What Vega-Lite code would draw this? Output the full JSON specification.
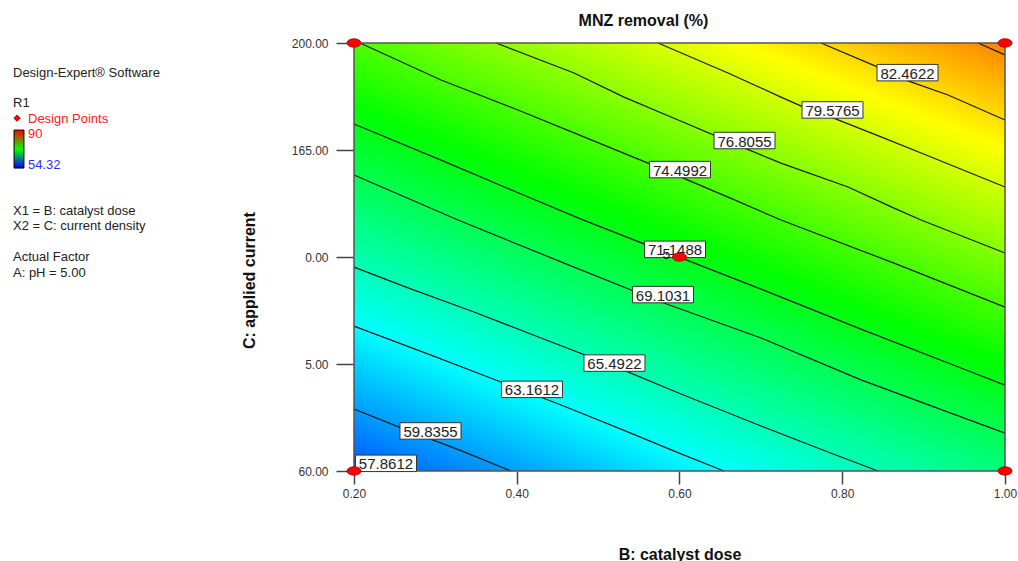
{
  "$schema": "https://vega.github.io/schema/vega-lite/v6.json",
  "background": "white",
  "padding": {"left": 12, "top": 13, "right": 0, "bottom": 0},
  "spacing": 21,
  "bounds": "flush",
  "config": {"font": "Liberation Sans", "view": {"stroke": null}},
  "datasets": {
    "surface": [{"b": 0.2, "b2": 1.0, "c": 60, "c2": 200}],
    "points": [
      {"b": 0.2, "c": 60, "reps": 1},
      {"b": 0.2, "c": 200, "reps": 1},
      {"b": 1.0, "c": 60, "reps": 1},
      {"b": 1.0, "c": 200, "reps": 1},
      {"b": 0.6, "c": 130, "reps": 5}
    ],
    "labels": [
      {"label": "82.4622", "b": 0.8802, "c": 190.3},
      {"label": "79.5765", "b": 0.7880, "c": 178.1},
      {"label": "76.8055", "b": 0.6799, "c": 168.1},
      {"label": "74.4992", "b": 0.6006, "c": 158.6},
      {"label": "71.1488", "b": 0.5945, "c": 132.5},
      {"label": "69.1031", "b": 0.5797, "c": 117.7},
      {"label": "65.4922", "b": 0.5201, "c": 95.3},
      {"label": "63.1612", "b": 0.4187, "c": 86.7},
      {"label": "59.8355", "b": 0.2940, "c": 73.1},
      {"label": "57.8612", "b": 0.2393, "c": 62.5}
    ],
    "contours": [
      {"level": "85.3", "b": 0.9668, "c": 200},
      {"level": "85.3", "b": 1.0, "c": 196.1},
      {"level": "82.4622", "b": 0.7739, "c": 200},
      {"level": "82.4622", "b": 0.8439, "c": 192.1},
      {"level": "82.4622", "b": 0.8808, "c": 187.6},
      {"level": "82.4622", "b": 0.9300, "c": 183.0},
      {"level": "82.4622", "b": 1.0, "c": 174.8},
      {"level": "79.5765", "b": 0.5736, "c": 200},
      {"level": "79.5765", "b": 0.6596, "c": 190.2},
      {"level": "79.5765", "b": 0.7247, "c": 182.3},
      {"level": "79.5765", "b": 0.7518, "c": 179.1},
      {"level": "79.5765", "b": 0.7886, "c": 175.5},
      {"level": "79.5765", "b": 0.8476, "c": 169.3},
      {"level": "79.5765", "b": 0.9091, "c": 162.7},
      {"level": "79.5765", "b": 1.0, "c": 152.9},
      {"level": "76.8055", "b": 0.3745, "c": 200},
      {"level": "76.8055", "b": 0.4704, "c": 190.2},
      {"level": "76.8055", "b": 0.5318, "c": 182.3},
      {"level": "76.8055", "b": 0.5896, "c": 175.8},
      {"level": "76.8055", "b": 0.6793, "c": 165.7},
      {"level": "76.8055", "b": 0.7247, "c": 160.7},
      {"level": "76.8055", "b": 0.8071, "c": 152.9},
      {"level": "76.8055", "b": 0.8636, "c": 146.0},
      {"level": "76.8055", "b": 0.8968, "c": 142.1},
      {"level": "76.8055", "b": 1.0, "c": 131.3},
      {"level": "74.4992", "b": 0.2074, "c": 200},
      {"level": "74.4992", "b": 0.3069, "c": 187.9},
      {"level": "74.4992", "b": 0.4015, "c": 178.1},
      {"level": "74.4992", "b": 0.4704, "c": 170.6},
      {"level": "74.4992", "b": 0.5613, "c": 160.7},
      {"level": "74.4992", "b": 0.6596, "c": 149.6},
      {"level": "74.4992", "b": 0.7247, "c": 142.1},
      {"level": "74.4992", "b": 0.8636, "c": 128.0},
      {"level": "74.4992", "b": 1.0, "c": 113.6},
      {"level": "71.1488", "b": 0.2, "c": 173.5},
      {"level": "71.1488", "b": 0.3069, "c": 161.7},
      {"level": "71.1488", "b": 0.4052, "c": 150.6},
      {"level": "71.1488", "b": 0.4790, "c": 142.4},
      {"level": "71.1488", "b": 0.5564, "c": 134.3},
      {"level": "71.1488", "b": 0.6018, "c": 129.7},
      {"level": "71.1488", "b": 0.7002, "c": 119.5},
      {"level": "71.1488", "b": 0.8230, "c": 106.4},
      {"level": "71.1488", "b": 0.9459, "c": 93.7},
      {"level": "71.1488", "b": 1.0, "c": 88.1},
      {"level": "69.1031", "b": 0.2, "c": 156.8},
      {"level": "69.1031", "b": 0.3278, "c": 142.1},
      {"level": "69.1031", "b": 0.4544, "c": 128.4},
      {"level": "69.1031", "b": 0.5773, "c": 115.3},
      {"level": "69.1031", "b": 0.7002, "c": 103.5},
      {"level": "69.1031", "b": 0.8230, "c": 89.8},
      {"level": "69.1031", "b": 0.9459, "c": 77.7},
      {"level": "69.1031", "b": 1.0, "c": 72.4},
      {"level": "65.4922", "b": 0.2, "c": 126.7},
      {"level": "65.4922", "b": 0.2664, "c": 119.9},
      {"level": "65.4922", "b": 0.3475, "c": 112.0},
      {"level": "65.4922", "b": 0.4298, "c": 103.5},
      {"level": "65.4922", "b": 0.5195, "c": 94.3},
      {"level": "65.4922", "b": 0.6018, "c": 85.2},
      {"level": "65.4922", "b": 0.7002, "c": 74.7},
      {"level": "65.4922", "b": 0.7825, "c": 66.2},
      {"level": "65.4922", "b": 0.8439, "c": 60},
      {"level": "63.1612", "b": 0.2, "c": 107.4},
      {"level": "63.1612", "b": 0.2946, "c": 97.9},
      {"level": "63.1612", "b": 0.3806, "c": 89.1},
      {"level": "63.1612", "b": 0.4544, "c": 81.6},
      {"level": "63.1612", "b": 0.5281, "c": 73.7},
      {"level": "63.1612", "b": 0.6018, "c": 65.6},
      {"level": "63.1612", "b": 0.6547, "c": 60},
      {"level": "59.8355", "b": 0.2, "c": 80.3},
      {"level": "59.8355", "b": 0.2578, "c": 74.1},
      {"level": "59.8355", "b": 0.3290, "c": 66.9},
      {"level": "59.8355", "b": 0.3929, "c": 60},
      {"level": "57.8612", "b": 0.2, "c": 63.3},
      {"level": "57.8612", "b": 0.2307, "c": 60}
    ],
    "legendText": [
      {"line": 0, "indent": 0, "text": "Design-Expert® Software", "role": "info"},
      {"line": 2, "indent": 0, "text": "R1", "role": "info"},
      {"line": 3, "indent": 1, "text": "Design Points", "role": "points"},
      {"line": 4, "indent": 1, "text": "90", "role": "max"},
      {"line": 6, "indent": 1, "text": "54.32", "role": "min"},
      {"line": 9, "indent": 0, "text": "X1 = B: catalyst dose", "role": "info"},
      {"line": 10, "indent": 0, "text": "X2 = C: current density", "role": "info"},
      {"line": 12, "indent": 0, "text": "Actual Factor", "role": "info"},
      {"line": 13, "indent": 0, "text": "A: pH = 5.00", "role": "info"}
    ],
    "legendSymbol": [{"indent": 0.27, "line": 2.7}],
    "legendBar": [{"indent": 0.07, "indent2": 0.73, "line": 3.47, "line2": 5.94}]
  },
  "hconcat": [
    {
      "width": 320,
      "height": 428,
      "encoding": {
        "x": {"field": "indent", "type": "quantitative", "scale": {"domain": [0, 21.333], "nice": false, "zero": false}, "axis": null},
        "y": {"field": "line", "type": "quantitative", "scale": {"domain": [-2.191, 25.637], "nice": false, "zero": false, "reverse": true}, "axis": null}
      },
      "layer": [
        {
          "data": {"name": "legendBar"},
          "mark": {
            "type": "rect",
            "fill": {"gradient": "linear", "x1": 0, "y1": 0, "x2": 0, "y2": 1,
              "stops": [{"offset": 0, "color": "#ff0000"}, {"offset": 0.5, "color": "#00ff00"}, {"offset": 1, "color": "#0000ff"}]},
            "stroke": "#000000",
            "strokeWidth": 1
          },
          "encoding": {"x2": {"field": "indent2"}, "y2": {"field": "line2"}}
        },
        {
          "data": {"name": "legendSymbol"},
          "mark": {"type": "point", "shape": "diamond", "size": 40, "filled": true, "fill": "#ff0000", "stroke": "#800000", "strokeWidth": 0.8, "opacity": 1}
        },
        {
          "data": {"name": "legendText"},
          "mark": {"type": "text", "align": "left", "baseline": "alphabetic", "fontSize": 13, "font": "Liberation Sans"},
          "encoding": {
            "text": {"field": "text"},
            "color": {"field": "role", "type": "nominal", "scale": {"domain": ["info", "points", "max", "min"], "range": ["#222222", "#ff2020", "#ff2020", "#3030ff"]}, "legend": null}
          }
        }
      ]
    },
    {
      "width": 651,
      "height": 428,
      "title": {"text": "MNZ removal (%)", "fontSize": 16, "fontWeight": "bold", "font": "Liberation Sans", "color": "#111111", "anchor": "middle", "baseline": "alphabetic", "offset": -5, "dx": -36},
      "encoding": {
        "x": {
          "field": "b", "type": "quantitative",
          "scale": {"domain": [0.2, 1.0], "nice": false, "zero": false},
          "axis": {
            "title": "B: catalyst dose", "values": [0.2, 0.4, 0.6, 0.8, 1.0], "format": ".2f",
            "grid": false, "domain": false, "tickSize": 13, "tickWidth": 1.5, "tickColor": "#444444",
            "labelFontSize": 12, "labelColor": "#333333", "labelPadding": 4, "labelFlush": false, "labelFont": "Liberation Sans",
            "titleFont": "Liberation Sans", "titleFontSize": 16, "titleFontWeight": "bold", "titleColor": "#111111",
            "titleBaseline": "alphabetic", "titleAlign": "center", "titleX": 325.5, "titleY": 88.5
          }
        },
        "y": {
          "field": "c", "type": "quantitative",
          "scale": {"domain": [60, 200], "nice": false, "zero": false},
          "axis": {
            "title": "C: applied current", "values": [60, 95, 130, 165, 200],
            "labelExpr": "datum.value == 95 ? '5.00' : datum.value == 130 ? '0.00' : format(datum.value, '.2f')",
            "grid": false, "domain": false, "tickSize": 18, "tickWidth": 1.5, "tickColor": "#444444",
            "labelFontSize": 12, "labelColor": "#333333", "labelPadding": 8, "labelFlush": false, "labelFont": "Liberation Sans",
            "titleFont": "Liberation Sans", "titleFontSize": 16, "titleFontWeight": "bold", "titleColor": "#111111",
            "titleAngle": 270, "titleAlign": "center", "titleBaseline": "middle", "titleX": -104.5, "titleY": 237
          }
        }
      },
      "layer": [
        {
          "data": {"name": "surface"},
          "mark": {
            "type": "rect",
            "fill": {"gradient": "linear", "x1": 0, "y1": 1, "x2": 0.708, "y2": -0.176,
              "stops": [
                {"offset": 0, "color": "#0054ff"},
                {"offset": 0.212, "color": "#00ffff"},
                {"offset": 0.529, "color": "#00ff00"},
                {"offset": 0.845, "color": "#ffff00"},
                {"offset": 1, "color": "#ff8200"}
              ]}
          },
          "encoding": {"x2": {"field": "b2"}, "y2": {"field": "c2"}}
        },
        {
          "data": {"name": "contours"},
          "mark": {"type": "line", "color": "#1a1a1a", "strokeWidth": 1.2},
          "encoding": {"detail": {"field": "level", "type": "nominal"}}
        },
        {
          "data": {"name": "surface"},
          "mark": {"type": "rect", "filled": false, "stroke": "#555555", "strokeWidth": 1.5},
          "encoding": {"x2": {"field": "b2"}, "y2": {"field": "c2"}}
        },
        {
          "data": {"name": "labels"},
          "mark": {"type": "point", "shape": "M-1,-0.27H1V0.27H-1Z", "size": 3721, "filled": true, "fill": "#ffffff", "stroke": "#333333", "strokeWidth": 1, "opacity": 1}
        },
        {
          "data": {"name": "labels"},
          "mark": {"type": "text", "fontSize": 15, "font": "Liberation Sans", "color": "#222222", "align": "center", "baseline": "middle", "dy": 1},
          "encoding": {"text": {"field": "label"}}
        },
        {
          "data": {"name": "points"},
          "mark": {"type": "point", "shape": "M-1,0A1,0.6,0,1,1,1,0A1,0.6,0,1,1,-1,0Z", "size": 196, "filled": true, "fill": "#ff0000", "stroke": "#990000", "strokeWidth": 0.8, "opacity": 1}
        },
        {
          "data": {"name": "points"},
          "transform": [{"filter": "datum.reps > 1"}],
          "mark": {"type": "text", "fontSize": 14, "font": "Liberation Sans", "color": "#111111", "dx": -13, "dy": -2, "align": "center", "baseline": "middle"},
          "encoding": {"text": {"field": "reps", "type": "nominal"}}
        }
      ]
    }
  ]
}
